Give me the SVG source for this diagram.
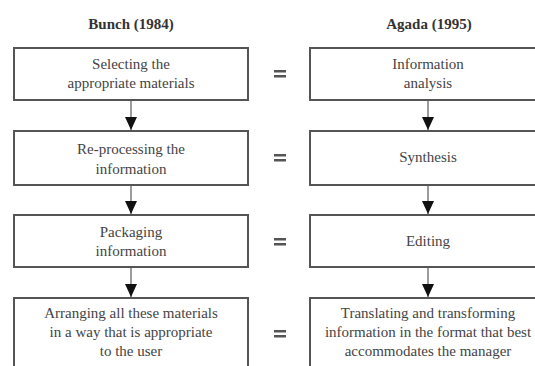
<svg xmlns="http://www.w3.org/2000/svg" width="535" height="366" viewBox="0 0 535 366">
<style>
.box{fill:#fff;stroke:#555;stroke-width:2}
.t{font-family:'Liberation Serif','DejaVu Serif',serif;font-size:15px;fill:#444;text-anchor:middle}
.h{font-family:'Liberation Serif','DejaVu Serif',serif;font-size:15px;font-weight:bold;fill:#333;text-anchor:middle}
.ln{stroke:#666;stroke-width:1.3;fill:none}
.eq{fill:#555}
</style>
<defs>
<marker id="ah" viewBox="0 0 13 12" refX="13" refY="6" markerWidth="13" markerHeight="12" markerUnits="userSpaceOnUse" orient="auto">
<path d="M0,0 L13,6 L0,12 Z" fill="#111"/>
</marker>
</defs>
<rect width="535" height="366" fill="#fff"/>
<text class="h" x="131" y="29">Bunch (1984)</text>
<text class="h" x="429" y="29">Agada (1995)</text>

<g id="connectors">
<line class="ln" x1="131" y1="100" x2="131" y2="130" marker-end="url(#ah)"/>
<line class="ln" x1="131" y1="185" x2="131" y2="214" marker-end="url(#ah)"/>
<line class="ln" x1="131" y1="267" x2="131" y2="297" marker-end="url(#ah)"/>
<line class="ln" x1="428" y1="100" x2="428" y2="130" marker-end="url(#ah)"/>
<line class="ln" x1="428" y1="185" x2="428" y2="214" marker-end="url(#ah)"/>
<line class="ln" x1="428" y1="267" x2="428" y2="297" marker-end="url(#ah)"/>
</g>

<g id="L1"><rect class="box" x="14" y="48" width="234" height="52"/>
<text class="t" x="131" y="69">Selecting the</text><text class="t" x="131" y="88">appropriate materials</text></g>
<g id="L2"><rect class="box" x="14" y="131" width="234" height="54"/>
<text class="t" x="131" y="154">Re-processing the</text><text class="t" x="131" y="174">information</text></g>
<g id="L3"><rect class="box" x="14" y="215" width="234" height="52"/>
<text class="t" x="131" y="237">Packaging</text><text class="t" x="131" y="256">information</text></g>
<g id="L4"><rect class="box" x="14" y="298" width="234" height="90"/>
<text class="t" x="131" y="318">Arranging all these materials</text><text class="t" x="131" y="337">in a way that is appropriate</text><text class="t" x="131" y="356">to the user</text></g>

<g id="R1"><rect class="box" x="310" y="48" width="250" height="52"/>
<text class="t" x="428" y="69">Information</text><text class="t" x="428" y="88">analysis</text></g>
<g id="R2"><rect class="box" x="310" y="131" width="250" height="54"/>
<text class="t" x="428" y="162">Synthesis</text></g>
<g id="R3"><rect class="box" x="310" y="215" width="250" height="52"/>
<text class="t" x="428" y="246">Editing</text></g>
<g id="R4"><rect class="box" x="310" y="298" width="250" height="90"/>
<text class="t" x="428" y="318">Translating and transforming</text><text class="t" x="428" y="337">information in the format that best</text><text class="t" x="428" y="356">accommodates the manager</text></g>

<g id="equals">
<rect class="eq" x="274" y="70" width="12" height="2.5"/><rect class="eq" x="274" y="75" width="12" height="2.5"/>
<rect class="eq" x="274" y="154" width="12" height="2.5"/><rect class="eq" x="274" y="159" width="12" height="2.5"/>
<rect class="eq" x="274" y="238" width="12" height="2.5"/><rect class="eq" x="274" y="243" width="12" height="2.5"/>
<rect class="eq" x="274" y="330" width="12" height="2.5"/><rect class="eq" x="274" y="335" width="12" height="2.5"/>
</g>
</svg>
